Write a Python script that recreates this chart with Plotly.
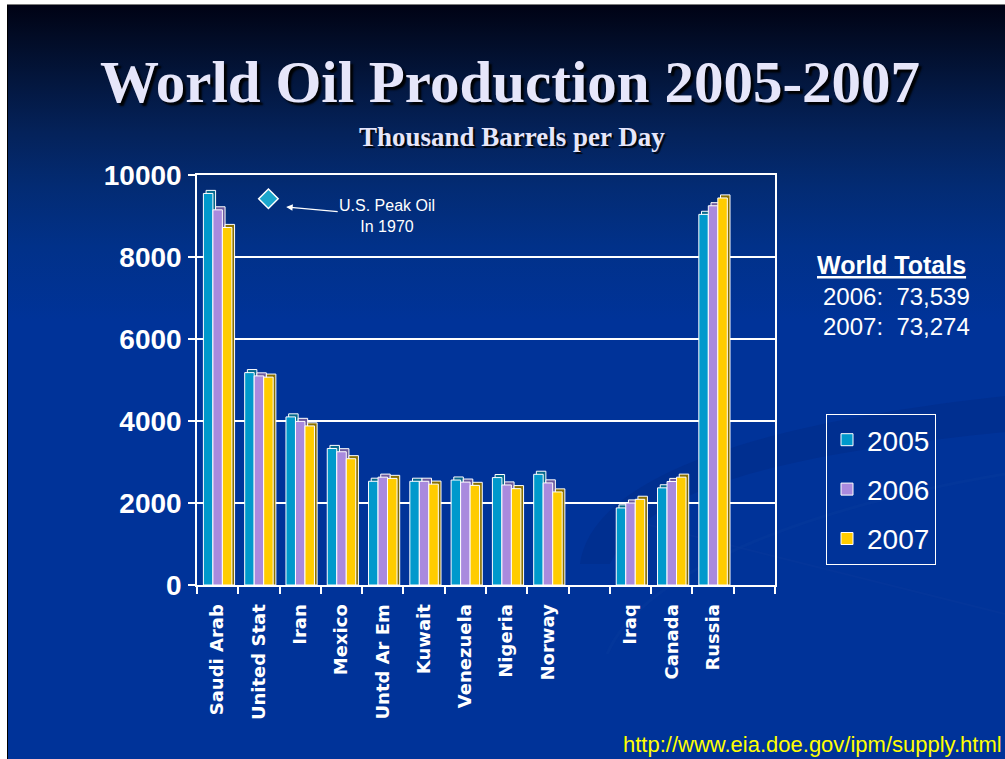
import base64
import plotly.graph_objects as go

# ---- data (thousand barrels per day) ----
CATEGORIES = ["Saudi Arab", "United Stat", "Iran", "Mexico", "Untd Ar Em", "Kuwait",
              "Venezuela", "Nigeria", "Norway", "", "Iraq", "Canada", "Russia", ""]
YEARS = ["2005", "2006", "2007"]
PROD_2005 = [9550, 5180, 4100, 3330, 2530, 2530, 2560, 2620, 2700, None, 1880, 2370, 9040, None]
PROD_2006 = [9150, 5100, 3990, 3250, 2630, 2530, 2510, 2440, 2490, None, 2000, 2525, 9250, None]
PROD_2007 = [8720, 5070, 3880, 3080, 2600, 2460, 2430, 2350, 2270, None, 2090, 2630, 9440, None]
Y_TICKS = [0, 2000, 4000, 6000, 8000, 10000]

US_PEAK_1970 = 9420          # marker for the 1970 U.S. peak
US_PEAK_CATEGORY = "United Stat"

WORLD_TOTALS = [("2006", "73,539"), ("2007", "73,274")]
SOURCE_URL = "http://www.eia.doe.gov/ipm/supply.html"

# ---- styling ----
FRONT = ["#0099cc", "#a98ade", "#ffcc00"]
SIDE = ["#05698c", "#6c5a9e", "#8a7000"]
BAR_W = 0.23          # width of one bar in category units
GROUP_START = -0.345  # left edge of the group relative to category centre
DEPTH_X = 0.065       # faux-3D depth, category units
DEPTH_Y = 75          # faux-3D depth, value units

W, H = 1005, 759
L, R, T, B = 197, 230, 175, 174

NARROW = "Liberation Sans Narrow, Arial Narrow, Liberation Sans, Arial, sans-serif"
SANS = "Liberation Sans, Arial, sans-serif"
SERIF = "Liberation Serif, Times New Roman, serif"

xpos = list(range(len(CATEGORIES)))
series = [PROD_2005, PROD_2006, PROD_2007]

fig = go.Figure()
for i, (year, vals) in enumerate(zip(YEARS, series)):
    depth_vals = [None if v is None else v + DEPTH_Y for v in vals]
    # side / top face
    fig.add_trace(go.Bar(
        x=xpos, y=depth_vals, width=BAR_W, offset=GROUP_START + i * BAR_W + DEPTH_X,
        marker=dict(color=SIDE[i], line=dict(color="white", width=1)),
        showlegend=False, hoverinfo="skip", legendgroup=year,
    ))
    # front face
    fig.add_trace(go.Bar(
        x=xpos, y=vals, width=BAR_W, offset=GROUP_START + i * BAR_W,
        name=year, legendgroup=year,
        marker=dict(color=FRONT[i], line=dict(color="white", width=1)),
    ))

# U.S. peak marker, set just right of the United States group
peak_x = CATEGORIES.index(US_PEAK_CATEGORY) + 0.23
fig.add_trace(go.Scatter(
    x=[peak_x], y=[US_PEAK_1970], mode="markers", showlegend=False,
    marker=dict(symbol="diamond", size=15, color="#1aa6cc", line=dict(color="white", width=1.5)),
))

fig.add_annotation(
    x=peak_x + 0.43, y=US_PEAK_1970 - 200, xref="x", yref="y",
    text="U.S. Peak Oil<br>In 1970", showarrow=True,
    ax=101, ay=9, arrowhead=2, arrowsize=1, arrowwidth=1.3, arrowcolor="white",
    font=dict(family=SANS, size=16, color="white"), align="center",
)

# ---- slide background (gradient with soft swooshes) ----
svg = f"""<svg xmlns='http://www.w3.org/2000/svg' width='998' height='755' viewBox='0 0 998 755'>
<defs><linearGradient id='g' x1='0' y1='0' x2='0' y2='1'>
<stop offset='0' stop-color='#000214'/>
<stop offset='0.04' stop-color='#020b24'/>
<stop offset='0.10' stop-color='#03163d'/>
<stop offset='0.17' stop-color='#04225a'/>
<stop offset='0.24' stop-color='#032b73'/>
<stop offset='0.32' stop-color='#013189'/>
<stop offset='0.42' stop-color='#003399'/>
<stop offset='1' stop-color='#003399'/>
</linearGradient></defs>
<rect x='0' y='0' width='998' height='755' fill='url(#g)'/>
<path d='M 573 560 C 585 470 760 418 998 392 L 998 428 C 800 448 640 478 603 560 Z' fill='#002c88' opacity='0.55'/>
<path d='M 600 650 C 640 560 820 500 998 470' stroke='#0a3c9e' stroke-width='3' fill='none' opacity='0.35'/>
<path d='M 630 518 C 720 540 860 575 998 610' stroke='#0b3a9a' stroke-width='2' fill='none' opacity='0.4'/>
<rect x='0' y='0' width='1' height='755' fill='#000000'/>
<rect x='0' y='0' width='998' height='1' fill='#7a7a7a'/>
</svg>"""
bg_src = "data:image/svg+xml;base64," + base64.b64encode(svg.encode()).decode()

pw, ph = W - L - R, H - T - B
fig.add_layout_image(
    source=bg_src, xref="paper", yref="paper",
    x=(7 - L) / pw, y=(H - B - 4) / ph, sizex=998 / pw, sizey=755 / ph,
    xanchor="left", yanchor="top", sizing="stretch", layer="below",
)

# ---- titles and side texts ----
fig.add_annotation(
    xref="paper", yref="paper", x=(510 - L) / pw, y=(H - B - 82) / ph,
    text="<b>World Oil Production 2005-2007</b>", showarrow=False,
    font=dict(family=SERIF, size=59, color="#e6e6fa", shadow="3px 3px 2px rgba(0,0,0,0.95)"),
    xanchor="center", yanchor="middle",
)
fig.add_annotation(
    xref="paper", yref="paper", x=(512 - L) / pw, y=(H - B - 137) / ph,
    text="<b>Thousand Barrels per Day</b>", showarrow=False,
    font=dict(family=SERIF, size=27, color="#e6e6fa", shadow="2px 2px 1px rgba(0,0,0,0.9)"),
    xanchor="center", yanchor="middle",
)
fig.add_annotation(
    xref="paper", yref="paper", x=(891 - L) / pw, y=(H - B - 265) / ph,
    text="<b><u>World Totals</u></b>", showarrow=False,
    font=dict(family=SANS, size=25, color="white"), xanchor="center", yanchor="middle",
)
for k, (yr, total) in enumerate(WORLD_TOTALS):
    fig.add_annotation(
        xref="paper", yref="paper", x=(821 - L) / pw, y=(H - B - 296 - 30 * k) / ph,
        text=f"{yr}:&nbsp; {total}", showarrow=False,
        font=dict(family=SANS, size=24, color="white"), xanchor="left", yanchor="middle",
    )
fig.add_annotation(
    xref="paper", yref="paper", x=(1004 - L) / pw, y=(H - B - 744) / ph,
    text=SOURCE_URL, showarrow=False,
    font=dict(family=SANS, size=22, color="#ffff00"), xanchor="right", yanchor="middle",
)

fig.update_layout(
    width=W, height=H, autosize=False,
    margin=dict(l=L, r=R, t=T, b=B, pad=0),
    paper_bgcolor="white", plot_bgcolor="rgba(0,0,0,0)",
    barmode="overlay", showlegend=True,
    legend=dict(
        x=(826 - L) / pw, y=(H - B - 414) / ph, xanchor="left", yanchor="top",
        bgcolor="rgba(0,0,0,0)", bordercolor="white", borderwidth=1,
        font=dict(family=NARROW, size=28, color="white"),
        tracegroupgap=10, itemwidth=30,
    ),
    xaxis=dict(
        range=[-0.5, len(CATEGORIES) - 0.5],
        tickmode="array", tickvals=xpos, ticktext=CATEGORIES, tickangle=-90,
        ticks="", showgrid=False, zeroline=False,
        tickfont=dict(family="DejaVu Sans, sans-serif", size=18, color="white", weight="bold"),
        ticklabelstandoff=10,
        showline=True, linecolor="white", linewidth=2, mirror=True,
        minor=dict(ticks="outside", tick0=0.5, dtick=1, ticklen=7, tickcolor="white",
                   tickwidth=1.5, showgrid=False),
    ),
    yaxis=dict(
        range=[0, 10000], tickmode="array", tickvals=Y_TICKS,
        ticktext=[str(v) for v in Y_TICKS],
        ticks="outside", ticklen=7, tickcolor="white", tickwidth=1.5,
        tickfont=dict(family=NARROW, size=28, color="white", weight="bold"),
        ticklabelstandoff=1,
        showgrid=True, gridcolor="white", gridwidth=1.5, zeroline=False,
        showline=True, linecolor="white", linewidth=1.5, mirror=True,
    ),
)

fig.write_html("out.html")
